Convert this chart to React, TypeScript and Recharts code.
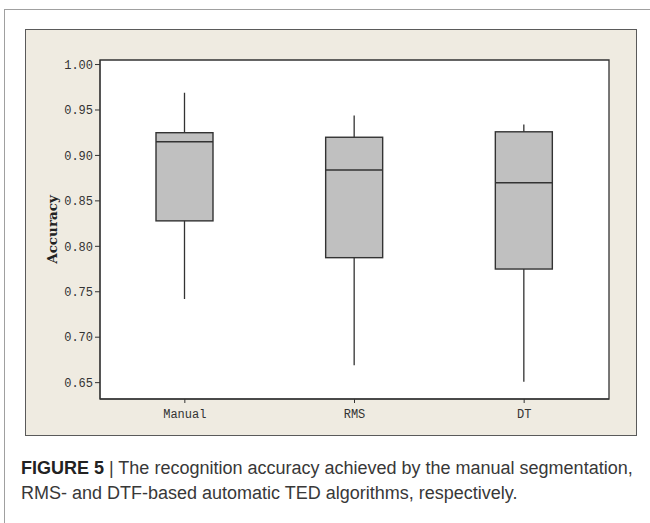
import React from 'react';
import { ComposedChart, Bar, XAxis, YAxis, CartesianGrid, ReferenceArea } from 'recharts';

const categories = ['Manual', 'RMS', 'DT'];
const whiskerLow = [0.742, 0.669, 0.651];
const boxQ1 = [0.828, 0.7875, 0.775];
const boxMedian = [0.915, 0.884, 0.87];
const boxQ3 = [0.925, 0.92, 0.926];
const whiskerHigh = [0.969, 0.944, 0.934];
const yTicks = [0.65, 0.7, 0.75, 0.8, 0.85, 0.9, 0.95, 1.0];
const yDomain = [0.632, 1.005];

const data = categories.map((name, i) => ({
  name,
  range: [whiskerLow[i], whiskerHigh[i]],
  low: whiskerLow[i],
  q1: boxQ1[i],
  median: boxMedian[i],
  q3: boxQ3[i],
  high: whiskerHigh[i],
}));

const BoxShape = (props: any) => {
  const { x, y, width, height, payload } = props;
  const { low, high, q1, q3, median } = payload;
  const py = (v: number) => y + ((high - v) / (high - low)) * height;
  const cx = x + width / 2;
  return (
    <g>
      <line x1={cx} x2={cx} y1={y} y2={y + height} stroke="#333" strokeWidth={1.3} />
      <rect x={x} y={py(q3)} width={width} height={py(q1) - py(q3)} fill="#c0c0c0" stroke="#333" strokeWidth={1.4} />
      <line x1={x} x2={x + width} y1={py(median)} y2={py(median)} stroke="#333" strokeWidth={1.4} />
    </g>
  );
};

const tickStyle = { fontFamily: '"Liberation Mono", monospace', fontSize: 12, fill: '#333' };

const App: React.FC = () => {
  return (
    <div style={{ position: 'absolute', left: 0, top: 0, width: 650, height: 523, background: '#fff', overflow: 'hidden' }}>
      <div style={{ position: 'absolute', left: 4, top: 9, width: 700, height: 600, borderTop: '1px solid #a0a0a0', borderLeft: '1px solid #a0a0a0' }} />
      <div style={{ position: 'absolute', left: 25, top: 29, width: 610, height: 405, background: '#efebe1', border: '1.5px solid #5a5a5a' }} />
      <div style={{ position: 'absolute', left: 0, top: 0 }}>
        <ComposedChart width={650} height={523} data={data} margin={{ top: 60, right: 41, bottom: 94, left: 30 }}>
          <CartesianGrid horizontal={false} vertical={false} fill="#fff" />
          <XAxis
            dataKey="name"
            height={30}
            tick={tickStyle}
            tickSize={4}
            tickMargin={6}
            stroke="#333"
            tickLine={{ stroke: '#333' }}
          />
          <YAxis
            type="number"
            domain={yDomain}
            ticks={yTicks}
            allowDataOverflow
            width={70}
            tick={tickStyle}
            tickFormatter={(v: number) => v.toFixed(2)}
            tickSize={5}
            tickMargin={2}
            stroke="#333"
            label={{
              content: ({ viewBox }: any) => {
                const lx = viewBox.x + 22;
                const ly = viewBox.y + viewBox.height / 2;
                return (
                  <text
                    x={lx}
                    y={ly}
                    transform={`rotate(-90 ${lx} ${ly})`}
                    textAnchor="middle"
                    dominantBaseline="central"
                    style={{ fontFamily: '"DejaVu Serif", serif', fontWeight: 'bold', fontSize: 13.5, fill: '#222' }}
                  >
                    Accuracy
                  </text>
                );
              },
            }}
          />
          <ReferenceArea y1={yDomain[0]} y2={yDomain[1]} fill="none" stroke="#333" strokeWidth={1.3} fillOpacity={0} />
          <Bar dataKey="range" barSize={57} shape={<BoxShape />} isAnimationActive={false} />
        </ComposedChart>
      </div>
      <div
        style={{
          position: 'absolute',
          left: 21,
          top: 456,
          width: 629,
          fontFamily: '"Liberation Sans", Arial, sans-serif',
          fontSize: 18,
          lineHeight: '25px',
          color: '#383838',
          whiteSpace: 'nowrap',
        }}
      >
        <b style={{ color: '#222' }}>FIGURE 5</b> | The recognition accuracy achieved by the manual segmentation,
        <br />
        RMS- and DTF-based automatic TED algorithms, respectively.
      </div>
    </div>
  );
};

export default App;
